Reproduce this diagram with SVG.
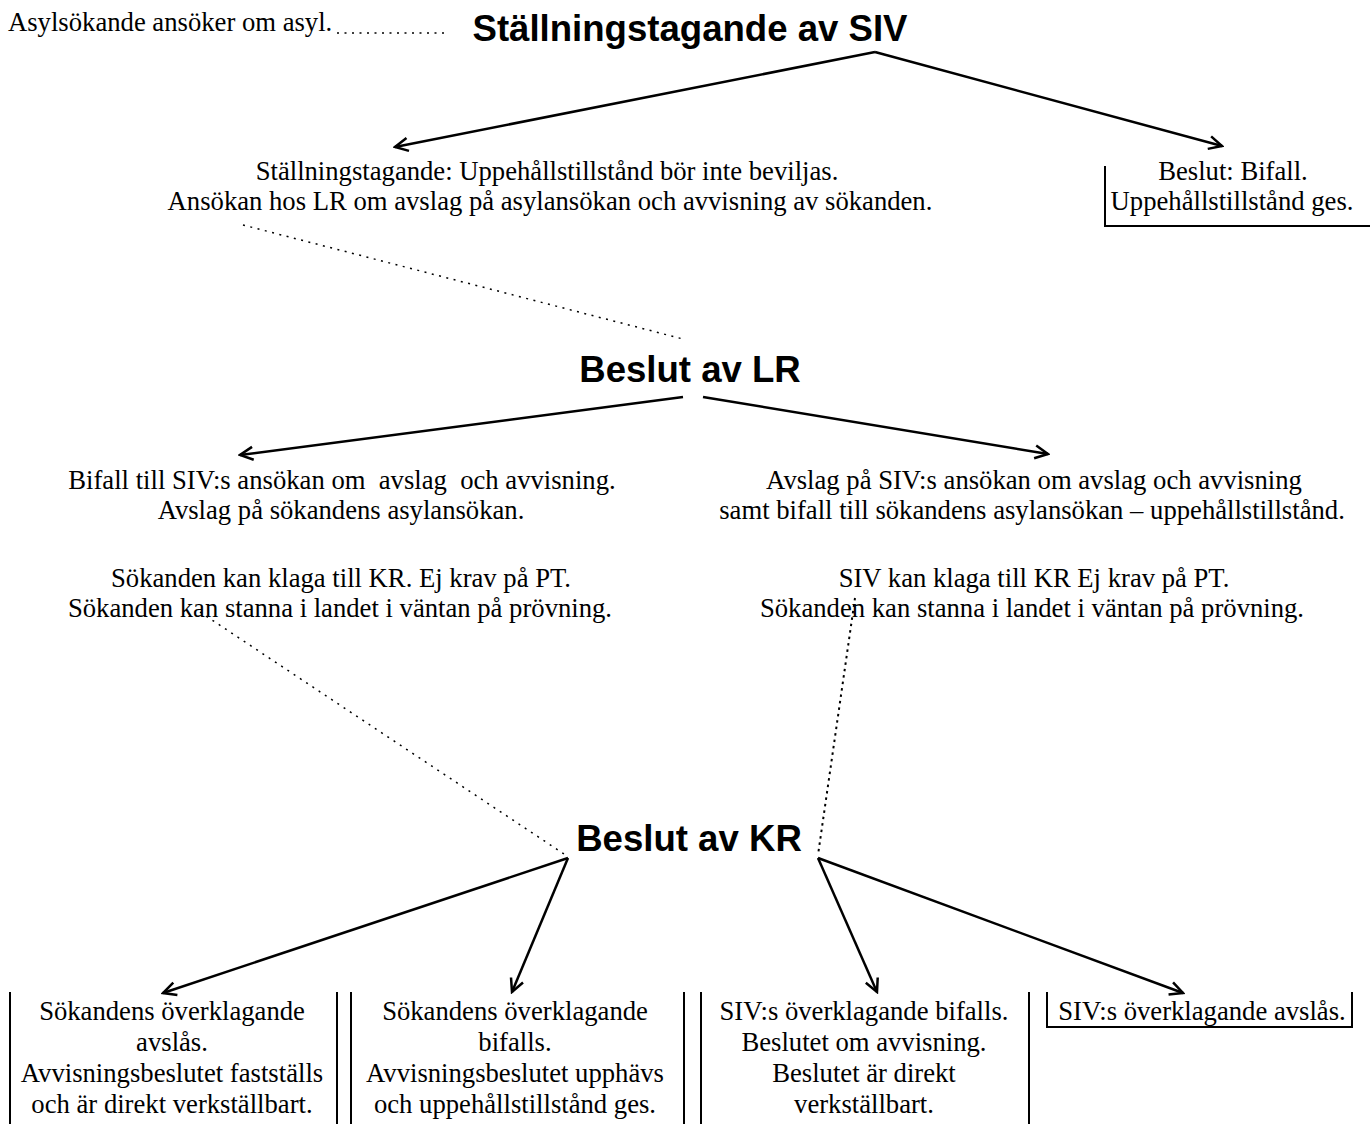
<svg xmlns="http://www.w3.org/2000/svg" width="1370" height="1124" viewBox="0 0 1370 1124">
<style>
.t{font-family:"Liberation Serif","Times New Roman",serif;font-size:26.67px;fill:#000;text-anchor:middle;white-space:pre}
.tl{text-anchor:start}
.h{font-family:"Liberation Sans",Arial,sans-serif;font-size:36.6px;font-weight:bold;fill:#000;text-anchor:middle}
.arr{stroke:#000;stroke-width:2.5;fill:none;marker-end:url(#ah)}
.dot{stroke:#000;stroke-width:1.5;fill:none;stroke-dasharray:2 5.5}
.dot2{stroke:#000;stroke-width:2;fill:none;stroke-dasharray:2.5 4}
.bx{stroke:#000;stroke-width:2;fill:none}
</style>
<defs>
<marker id="ah" viewBox="0 0 18 18" refX="16" refY="9" markerWidth="18" markerHeight="18" markerUnits="userSpaceOnUse" orient="auto">
<path d="M3,2.5 L16,9 L3,15.5" fill="none" stroke="#000" stroke-width="2.5"/>
</marker>
</defs>
<rect width="1370" height="1124" fill="#fff"/>

<g id="start">
<text class="t tl" x="8" y="31">Asylsökande ansöker om asyl.</text>
</g>
<g id="siv">
<text class="h" x="690" y="41">Ställningstagande av SIV</text>
</g>
<g id="siv-no">
<text class="t" x="547" y="180">Ställningstagande: Uppehållstillstånd bör inte beviljas.</text>
<text class="t" x="550" y="210">Ansökan hos LR om avslag på asylansökan och avvisning av sökanden.</text>
</g>
<g id="siv-yes">
<path class="bx" d="M1105,166 V226 H1372"/>
<text class="t" x="1233" y="180">Beslut: Bifall.</text>
<text class="t" x="1232" y="210">Uppehållstillstånd ges.</text>
</g>
<g id="lr">
<text class="h" x="690" y="382">Beslut av LR</text>
</g>
<g id="lr-yes">
<text class="t" x="342" y="489">Bifall till SIV:s ansökan om  avslag  och avvisning.</text>
<text class="t" x="341" y="519">Avslag på sökandens asylansökan.</text>
<text class="t" x="341" y="587">Sökanden kan klaga till KR. Ej krav på PT.</text>
<text class="t" x="340" y="617">Sökanden kan stanna i landet i väntan på prövning.</text>
</g>
<g id="lr-no">
<text class="t" x="1034" y="489">Avslag på SIV:s ansökan om avslag och avvisning</text>
<text class="t" x="1032" y="519">samt bifall till sökandens asylansökan – uppehållstillstånd.</text>
<text class="t" x="1034" y="587">SIV kan klaga till KR Ej krav på PT.</text>
<text class="t" x="1032" y="617">Sökanden kan stanna i landet i väntan på prövning.</text>
</g>
<g id="kr">
<text class="h" x="689" y="851">Beslut av KR</text>
</g>
<g id="kr-1">
<path class="bx" d="M10,992 V1124 M337,992 V1124"/>
<text class="t" x="172" y="1020">Sökandens överklagande</text>
<text class="t" x="172" y="1051">avslås.</text>
<text class="t" x="172" y="1082">Avvisningsbeslutet fastställs</text>
<text class="t" x="172" y="1113">och är direkt verkställbart.</text>
</g>
<g id="kr-2">
<path class="bx" d="M351,992 V1124 M684,992 V1124"/>
<text class="t" x="515" y="1020">Sökandens överklagande</text>
<text class="t" x="515" y="1051">bifalls.</text>
<text class="t" x="515" y="1082">Avvisningsbeslutet upphävs</text>
<text class="t" x="515" y="1113">och uppehållstillstånd ges.</text>
</g>
<g id="kr-3">
<path class="bx" d="M701,992 V1124 M1029,992 V1124"/>
<text class="t" x="864" y="1020">SIV:s överklagande bifalls.</text>
<text class="t" x="864" y="1051">Beslutet om avvisning.</text>
<text class="t" x="864" y="1082">Beslutet är direkt</text>
<text class="t" x="864" y="1113">verkställbart.</text>
</g>
<g id="kr-4">
<path class="bx" d="M1047,992 V1027 H1352 V992"/>
<text class="t" x="1202" y="1020">SIV:s överklagande avslås.</text>
</g>

<g id="connectors">
<line class="dot" x1="337" y1="33" x2="447" y2="33"/>
<line class="arr" x1="875" y1="52" x2="395" y2="147"/>
<line class="arr" x1="875" y1="52" x2="1222" y2="146"/>
<line class="dot" x1="243" y1="225" x2="683" y2="339"/>
<line class="arr" x1="683" y1="397" x2="240" y2="455"/>
<line class="arr" x1="703" y1="397" x2="1048" y2="454"/>
<line class="dot" x1="200" y1="612" x2="567" y2="856"/>
<line class="dot2" x1="855" y1="598" x2="818" y2="855"/>
<line class="arr" x1="568" y1="858" x2="163" y2="993"/>
<line class="arr" x1="568" y1="858" x2="512" y2="992"/>
<line class="arr" x1="818" y1="858" x2="877" y2="992"/>
<line class="arr" x1="818" y1="858" x2="1183" y2="993"/>
</g>
</svg>
